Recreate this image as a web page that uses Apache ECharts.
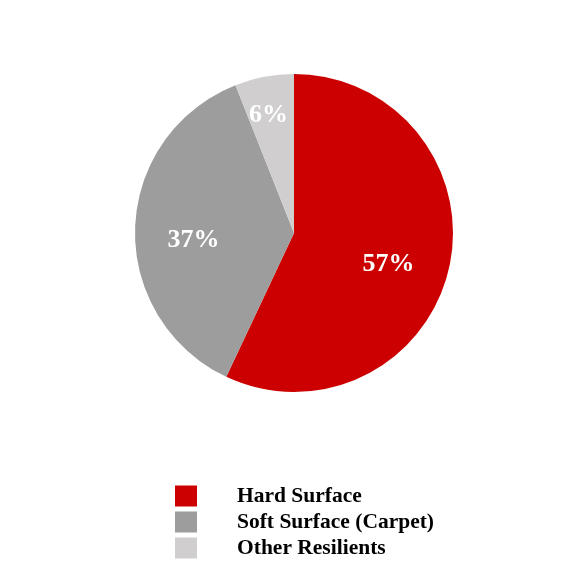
<!DOCTYPE html>
<html>
<head>
<meta charset="utf-8">
<script src="https://cdn.jsdelivr.net/npm/echarts@6/dist/echarts.min.js"></script>
<style>
  html, body { margin: 0; padding: 0; background: #fff; }
  #chart { width: 586px; height: 586px; }
</style>
</head>
<body>
<div id="chart"></div>
<script>
  // 数据
  const categories = ['Hard Surface', 'Soft Surface (Carpet)', 'Other Resilients']
  const values = [57, 37, 6]
  const colors = ['#cc0000', '#9d9d9d', '#d0cece']
  const labelOffsets = [[14, 13], [-18, 10], [-10, -37]]

  const chart = echarts.init(document.getElementById('chart'))
  chart.setOption({
    animation: false,
    legend: {
      orient: 'vertical',
      left: 170,
      top: 480,
      itemWidth: 22,
      itemHeight: 21,
      itemGap: 4,
      icon: 'rect',
      data: categories,
      textStyle: {
        fontFamily: 'Liberation Serif',
        fontWeight: 'bold',
        fontSize: 21.5,
        lineHeight: 21,
        color: '#000',
        padding: [0, 0, 0, 35]
      }
    },
    series: [{
      type: 'pie',
      center: [294, 233],
      radius: 159,
      startAngle: 90,
      clockwise: true,
      itemStyle: { borderWidth: 0 },
      label: {
        position: 'inside',
        formatter: '{c}%',
        color: '#fff',
        fontFamily: 'Liberation Serif',
        fontWeight: 'bold',
        fontSize: 26
      },
      labelLine: { show: false },
      emphasis: { disabled: true },
      data: categories.map((name, i) => ({
        name: name,
        value: values[i],
        itemStyle: { color: colors[i] },
        label: { offset: labelOffsets[i] }
      }))
    }]
  })
</script>
</body>
</html>
